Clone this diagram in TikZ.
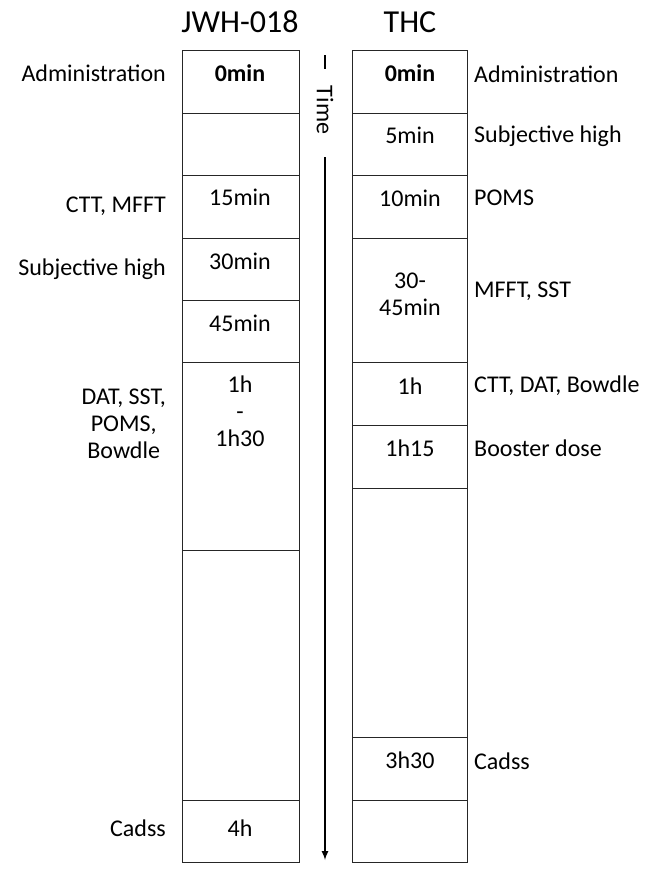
\documentclass[tikz,border=0pt]{standalone}
\usepackage{fontspec}
\setmainfont{Carlito}
\begin{document}
\begin{tikzpicture}[x=1pt,y=-1pt,
  cell/.style={draw=black!85,line width=1pt},
  t/.style={font=\fontsize{24}{27}\selectfont,inner sep=0pt,align=center},
  lab/.style={t,anchor=east},
  rab/.style={t,anchor=west},
  ttl/.style={font=\fontsize{32}{36}\selectfont,inner sep=0pt}]
\useasboundingbox (0,0) rectangle (661,879);
\node[ttl] (tl) at (240,22) {JWH-018};
\node[ttl] (tr) at (410,22) {THC};
% columns
\foreach \a/\b in {50/113,113/175,175/238,238/300,300/362,362/550,550/800,800/862}
  \draw[cell] (182,\a) rectangle (299,\b);
\foreach \a/\b in {50/113,113/175,175/238,238/362,362/425,425/488,488/737,737/800,800/862}
  \draw[cell] (352,\a) rectangle (467,\b);
% left texts
\node[t] (l0) at (240,73) {\textbf{0min}};
\node[t] (l15) at (240,197) {15min};
\node[t] (l30) at (240,261) {30min};
\node[t] (l45) at (240,323) {45min};
\node[t] (l1h) at (240,411) {1h\\-\\1h30};
\node[t] (l4h) at (240,828) {4h};
\node[lab] (la) at (166,73) {Administration};
\node[lab] (lb) at (166,206) {CTT, MFFT};
\node[lab] (lc) at (166,269) {Subjective high};
\node[lab,align=center] (ld) at (166,424) {DAT, SST,\\POMS,\\Bowdle};
\node[lab] (le) at (166,828) {Cadss};
% right texts
\node[t] (r0) at (410,73) {\textbf{0min}};
\node[t] (r5) at (410,135) {5min};
\node[t] (r10) at (410,198) {10min};
\node[t] (r30) at (410,294) {30-\\45min};
\node[t] (r1h) at (410,386) {1h};
\node[t] (r115) at (410,448) {1h15};
\node[t] (r330) at (410,760) {3h30};
\node[rab] (ra) at (474,74) {Administration};
\node[rab] (rb) at (474,136) {Subjective high};
\node[rab] (rc) at (474,198) {POMS};
\node[rab] (rd) at (474,291) {MFFT, SST};
\node[rab] (re) at (474,386) {CTT, DAT, Bowdle};
\node[rab] (rf) at (474,448) {Booster dose};
\node[rab] (rg) at (474,761) {Cadss};
% time arrow
\coordinate (a0) at (325,55);
\coordinate (a1) at (325,69);
\coordinate (a2) at (325,157);
\coordinate (a3) at (325,860);
\draw[line width=2pt] (a0) -- (a1);
\node[t,rotate=-90] (time) at (325,110) {Time};
\draw[line width=2pt,-latex] (a2) -- (a3);
\end{tikzpicture}
\end{document}
